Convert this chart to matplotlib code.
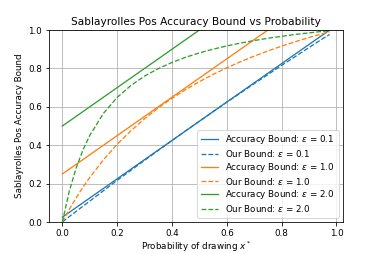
import matplotlib
matplotlib.use("Agg")
import matplotlib.pyplot as plt

# probability of drawing x*
p = [0, 0.025, 0.05, 0.075, 0.1, 0.15, 0.2, 0.25, 0.3, 0.35, 0.4, 0.45,
     0.5, 0.55, 0.6, 0.65, 0.7, 0.75, 0.8, 0.85, 0.9, 0.95, 0.975]

# Accuracy bound (straight lines, clipped at 1 by the axis)
acc_p = [0, 0.975]
acc_01 = [0.025, 1.0]
acc_10 = [0.25, 1.225]
acc_20 = [0.5, 1.475]

# Our bound (dashed curves)
our_01 = [0, 0.028, 0.055, 0.082, 0.109, 0.163, 0.217, 0.269, 0.321, 0.373,
          0.424, 0.475, 0.525, 0.575, 0.624, 0.672, 0.721, 0.768, 0.816,
          0.862, 0.909, 0.955, 0.977]
our_10 = [0, 0.065, 0.125, 0.181, 0.232, 0.324, 0.405, 0.475, 0.538, 0.594,
          0.644, 0.690, 0.731, 0.769, 0.803, 0.835, 0.864, 0.891, 0.916,
          0.939, 0.961, 0.981, 0.991]
our_20 = [0, 0.159, 0.280, 0.375, 0.451, 0.566, 0.649, 0.711, 0.760, 0.799,
          0.831, 0.858, 0.881, 0.900, 0.917, 0.932, 0.945, 0.957, 0.967,
          0.977, 0.985, 0.993, 0.997]

plt.rcParams["font.size"] = 8.8
plt.rcParams["axes.titlesize"] = 10.5
plt.rcParams["lines.linewidth"] = 1.3

fig = plt.figure(figsize=(382 / 72, 254 / 72), dpi=72)
ax = fig.add_axes([49 / 382, 32 / 254, 294 / 382, 192 / 254])

c1, c2, c3 = "#1f77b4", "#ff7f0e", "#2ca02c"
ax.plot(acc_p, acc_01, color=c1, label=r"Accuracy Bound: $\epsilon$ = 0.1")
ax.plot(p, our_01, color=c1, ls="--", label=r"Our Bound: $\epsilon$ = 0.1")
ax.plot(acc_p, acc_10, color=c2, label=r"Accuracy Bound: $\epsilon$ = 1.0")
ax.plot(p, our_10, color=c2, ls="--", label=r"Our Bound: $\epsilon$ = 1.0")
ax.plot(acc_p, acc_20, color=c3, label=r"Accuracy Bound: $\epsilon$ = 2.0")
ax.plot(p, our_20, color=c3, ls="--", label=r"Our Bound: $\epsilon$ = 2.0")

ax.set_xlim(-0.04875, 1.02375)
ax.set_ylim(0, 1)
ax.grid(True)
ax.set_title("Sablayrolles Pos Accuracy Bound vs Probability", pad=5)
ax.set_xlabel(r"Probability of drawing $x^*$", labelpad=2)
ax.set_ylabel("Sablayrolles Pos Accuracy Bound")
ax.legend(loc="lower right", labelspacing=0.2)

fig.savefig("out.png", dpi=72)
